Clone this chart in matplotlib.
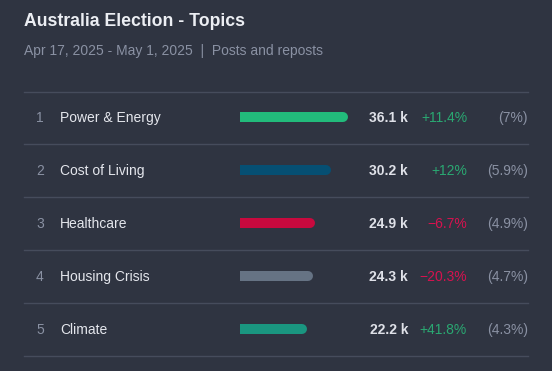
import matplotlib.pyplot as plt

# data
ranks = [1, 2, 3, 4, 5]
topics = ["Power & Energy", "Cost of Living", "Healthcare", "Housing Crisis", "Climate"]
mentions_k = [36.1, 30.2, 24.9, 24.3, 22.2]
change_pct = [11.4, 12, -6.7, -20.3, 41.8]
share_pct = ["7", "5.9", "4.9", "4.7", "4.3"]
bar_colors = ["#22bb7b", "#064f73", "#c8093e", "#667384", "#1a9680"]

BG = "#2f3441"
W, H = 552, 371
plt.rcParams['font.family'] = ['Liberation Sans', 'DejaVu Sans']

fig = plt.figure(figsize=(W / 100, H / 100), dpi=100, facecolor=BG)

# text / lines layer in pixel coords
ax = fig.add_axes([0, 0, 1, 1])
ax.set_xlim(0, W)
ax.set_ylim(H, 0)
ax.axis('off')

ax.text(24, 21, "Australia Election - Topics", color="#eceef3", fontsize=12.7,
        fontweight='bold', va='center', ha='left')
ax.text(24, 51.5, "Apr 17, 2025 - May 1, 2025  |  Posts and reposts", color="#8a91a3",
        fontsize=10, va='center', ha='left')

row0, step = 117, 53
ax.plot([24, 528], [92, 92], color="#464c5c", lw=1)
for i in range(len(topics)):
    y = row0 + step * i
    ty = y + 1
    ax.plot([24, 528], [y + 26.5, y + 26.5], color="#464c5c", lw=1)
    ax.text(40, ty, str(ranks[i]), color="#8a91a3", fontsize=10, ha='center', va='center')
    ax.text(60, ty, topics[i], color="#e4e6ec", fontsize=10, ha='left', va='center')
    ax.text(408, ty, f"{mentions_k[i]:.1f} k", color="#dfe1e8", fontsize=10,
            fontweight='bold', ha='right', va='center')
    c = change_pct[i]
    txt = f"+{c:g}%" if c >= 0 else f"\u2212{abs(c):g}%"
    ax.text(467, ty, txt, color="#2aa872" if c >= 0 else "#d6124f", fontsize=10,
            ha='right', va='center')
    ax.text(528, ty, f"({share_pct[i]}%)", color="#8a91a3", fontsize=10,
            ha='right', va='center')

# bars: 3 px per thousand
bx = fig.add_axes([240 / W, 0, 120 / W, 1])
bx.set_xlim(0, 40)
bx.set_ylim((H - row0) / step, -row0 / step)
bx.axis('off')
r = 5 / 3  # cap radius in data units
for i, v in enumerate(mentions_k):
    bx.plot([0, v - r], [i, i], color=bar_colors[i], lw=7.2, solid_capstyle='round')

fig.savefig("out.png", dpi=100, facecolor=BG)
